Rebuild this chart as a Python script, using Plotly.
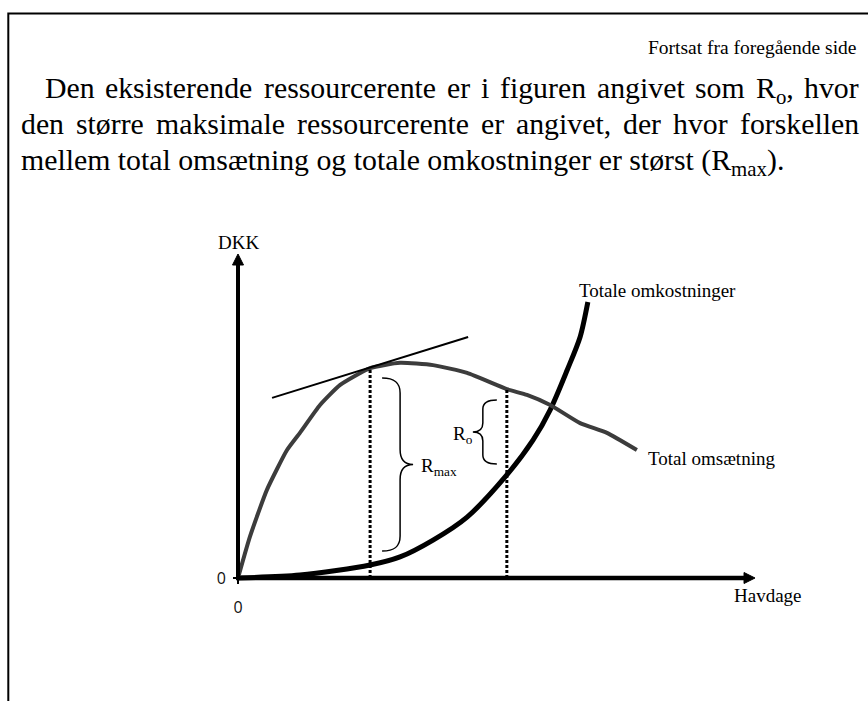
import re
import plotly.graph_objects as go

# ---------------- data ----------------
# Total omsætning (revenue) against havdage
havdage_oms = [0, 2.3, 5.6, 9.5, 12.0, 15.9, 19.8, 25.6, 31.4, 37.8, 44.4, 52.1, 56.0, 60.5, 66.3, 71.5, 77.3]
omsaetning = [0, 12.7, 27.2, 39.5, 44.8, 53.4, 59.6, 64.8, 66.4, 65.7, 63.3, 58.3, 56.5, 53.4, 47.8, 44.8, 39.5]

# Totale omkostninger (costs) against havdage
havdage_omk = [0, 12.0, 25.6, 31.4, 37.8, 44.4, 52.1, 57.2, 60.5, 63.8, 66.3, 67.8]
omkostninger = [0, 0.9, 4.0, 6.5, 11.7, 18.8, 31.8, 42.6, 51.9, 64.2, 74.4, 85.2]

# tangent to the revenue curve at the point of maximum rent
tangent_x = [6.6, 44.6]
tangent_y = [55.6, 74.4]

x_rmax = 25.6   # effort with maximum resource rent
x_ro = 52.1     # existing effort

tick_vals = [0]
tick_text = ["0"]

header = "Fortsat fra foregående side"
body_lines = [
    "Den eksisterende ressourcerente er i figuren angivet som R<sub>o</sub>, hvor",
    "den større maksimale ressourcerente er angivet, der hvor forskellen",
    "mellem total omsætning og totale omkostninger er størst (R<sub>max</sub>).",
]

# ---------------- geometry ----------------
W, H = 868, 701
ML, MR, MT, MB = 200, 88, 230, 101
PW, PH = W - ML - MR, H - MT - MB
OX, OY = 238, 578      # pixel position of the origin
SX, SY = 5.16, 3.24    # pixels per data unit

SERIF = "Liberation Serif, Times New Roman, serif"
SANS = "Open Sans, DejaVu Sans, sans-serif"


def xd(px):
    return (px - OX) / SX


def yd(py):
    return (OY - py) / SY


def xpx(x):
    return OX + x * SX


def ypx(y):
    return OY - y * SY


def paper_x(px):
    return (px - ML) / PW


def paper_y(py):
    return (H - MB - py) / PH


# Times / Liberation Serif advance widths (1/1000 em)
ADV = {' ': 250, 'a': 444, 'c': 444, 'd': 500, 'e': 444, 'f': 333, 'g': 500, 'h': 500,
       'i': 278, 'k': 500, 'l': 278, 'm': 778, 'n': 500, 'o': 500, 'r': 333, 's': 389,
       't': 278, 'u': 500, 'v': 500, 'x': 500, 'å': 444, 'æ': 667, 'ø': 500, 'D': 722,
       'F': 556, 'R': 667, ',': 250, '.': 250, '(': 333, ')': 333}


def text_width(s, size):
    total = 0.0
    for m in re.finditer(r"<sub>(.*?)</sub>|([^<]+)", s):
        part = m.group(1) if m.group(1) is not None else m.group(2)
        scale = 0.7 if m.group(1) is not None else 1.0
        total += sum(ADV.get(c, 500) for c in part) * scale
    return total / 1000.0 * size


def lookup(xs, ys, x):
    return ys[xs.index(x)]


fig = go.Figure()

# curves
fig.add_trace(go.Scatter(x=havdage_omk, y=omkostninger, mode="lines",
                         line=dict(color="#000000", width=5, shape="spline", smoothing=0.8),
                         hoverinfo="skip"))
fig.add_trace(go.Scatter(x=havdage_oms, y=omsaetning, mode="lines",
                         line=dict(color="#3c3c3c", width=4, shape="spline", smoothing=0.5),
                         hoverinfo="skip"))
fig.add_trace(go.Scatter(x=tangent_x, y=tangent_y, mode="lines",
                         line=dict(color="#000000", width=2), hoverinfo="skip"))

# dotted verticals from the revenue curve down to the axis
for xv in (x_rmax, x_ro):
    fig.add_trace(go.Scatter(x=[xv, xv], y=[0, lookup(havdage_oms, omsaetning, xv)],
                             mode="lines", line=dict(color="#000000", width=3, dash="3px,2px"),
                             hoverinfo="skip"))

shapes = []

# axes with arrow heads
x_tip, y_tip = 100.2, 100.0
head = 11  # arrow head length in pixels
shapes.append(dict(type="line", xref="x", yref="y", x0=0, y0=yd(OY + 2), x1=0, y1=y_tip - (head - 2) / SY,
                   line=dict(color="black", width=4), layer="above"))
shapes.append(dict(type="line", xref="x", yref="y", x0=xd(OX - 2), y0=0, x1=x_tip - (head - 2) / SX, y1=0,
                   line=dict(color="black", width=4.5), layer="above"))
ty = ypx(y_tip)
shapes.append(dict(type="path", xref="x", yref="y", layer="above",
                   path=f"M {xd(OX)},{yd(ty)} L {xd(OX - 5.5)},{yd(ty + head)} L {xd(OX + 5.5)},{yd(ty + head)} Z",
                   fillcolor="black", line=dict(color="black", width=1)))
tx = xpx(x_tip)
shapes.append(dict(type="path", xref="x", yref="y", layer="above",
                   path=f"M {xd(tx)},{yd(OY)} L {xd(tx - head)},{yd(OY - 5.5)} L {xd(tx - head)},{yd(OY + 5.5)} Z",
                   fillcolor="black", line=dict(color="black", width=1)))


def brace(x_end, y_top, y_bot, depth, tip, r, side):
    """Curly brace in pixel space; side=+1 opens like '}', -1 like '{'."""
    s = side
    xs = x_end + s * depth
    xt = x_end + s * tip
    ym = (y_top + y_bot) / 2
    pts = [
        ("M", [(x_end, y_top)]),
        ("C", [(xs - s * depth * 0.3, y_top), (xs, y_top + r * 0.3), (xs, y_top + r)]),
        ("L", [(xs, ym - r)]),
        ("C", [(xs, ym - r * 0.3), (xs + s * (tip - depth) * 0.4, ym), (xt, ym)]),
        ("C", [(xs + s * (tip - depth) * 0.4, ym), (xs, ym + r * 0.3), (xs, ym + r)]),
        ("L", [(xs, y_bot - r)]),
        ("C", [(xs, y_bot - r * 0.3), (xs - s * depth * 0.3, y_bot), (x_end, y_bot)]),
    ]
    out = []
    for cmd, pp in pts:
        out.append(cmd + " " + " ".join(f"{xd(a):.4f},{yd(b):.4f}" for a, b in pp))
    return " ".join(out)


# R_max brace between the two curves at x_rmax
bx = xpx(x_rmax)
shapes.append(dict(type="path", xref="x", yref="y", layer="above",
                   path=brace(bx + 12, ypx(lookup(havdage_oms, omsaetning, x_rmax)) + 10,
                              ypx(lookup(havdage_omk, omkostninger, x_rmax)) - 14, 18, 31, 15, 1),
                   line=dict(color="black", width=1.5)))
# R_o brace between the two curves at x_ro
bx = xpx(x_ro)
shapes.append(dict(type="path", xref="x", yref="y", layer="above",
                   path=brace(bx - 10, ypx(lookup(havdage_oms, omsaetning, x_ro)) + 11,
                              ypx(lookup(havdage_omk, omkostninger, x_ro)) - 11, 14, 24, 9, -1),
                   line=dict(color="black", width=1.5)))

# page frame
shapes.append(dict(type="path", xref="paper", yref="paper", layer="above",
                   path=f"M {paper_x(8.3)},{paper_y(705)} L {paper_x(8.3)},{paper_y(13.5)} L {paper_x(872)},{paper_y(13.5)}",
                   line=dict(color="black", width=2)))

annotations = []


def label(text, x, y, size=19, xanchor="left", yanchor="middle", ref="data"):
    a = dict(text=text, showarrow=False, xanchor=xanchor, yanchor=yanchor,
             font=dict(family=SERIF, size=size, color="black"))
    if ref == "data":
        a.update(xref="x", yref="y", x=xd(x), y=yd(y))
    else:
        a.update(xref="paper", yref="paper", x=paper_x(x), y=paper_y(y))
    annotations.append(a)


label("DKK", OX, 242, xanchor="center")
label("Totale omkostninger", 577, 290)
label("Total omsætning", 646, 458)
label("Havdage", 732, 595)
label("R<sub>max</sub>", 419, 465 - 0.56 * 19 - 1, yanchor="top")
label("R<sub>o</sub>", 451, 433 - 0.56 * 19 - 1, yanchor="top")

# header and body text
HEAD_SIZE = 19.5
BODY_SIZE = 29.8
label(header, 858, 53 - 0.891 * HEAD_SIZE - 1, size=HEAD_SIZE, xanchor="right", yanchor="top", ref="paper")

baselines = [97, 133, 169]
starts = [44, 20, 20]
right_edge = 858
for i, line in enumerate(body_lines):
    top = baselines[i] - 0.891 * BODY_SIZE - 1
    if i < len(body_lines) - 1:
        words = line.split(" ")
        widths = [text_width(w, BODY_SIZE) for w in words]
        gap = (right_edge - starts[i] - sum(widths)) / (len(words) - 1)
        xpos = starts[i]
        for w, wd in zip(words, widths):
            label(w, xpos - 1, top, size=BODY_SIZE, yanchor="top", ref="paper")
            xpos += wd + gap
    else:
        label(line, starts[i] - 1, top, size=BODY_SIZE, yanchor="top", ref="paper")

axis_common = dict(tickvals=tick_vals, ticktext=tick_text, ticks="outside", ticklen=5,
                   tickwidth=1.5, tickcolor="black", showgrid=False, zeroline=False,
                   showline=False, fixedrange=True,
                   tickfont=dict(family=SANS, size=16, color="#111"))

fig.update_layout(
    width=W, height=H,
    margin=dict(l=ML, r=MR, t=MT, b=MB, pad=0),
    paper_bgcolor="white", plot_bgcolor="white",
    showlegend=False,
    shapes=shapes, annotations=annotations,
    xaxis=dict(range=[xd(ML), xd(W - MR)], anchor="free", position=paper_y(OY),
               ticklabelstandoff=10, **axis_common),
    yaxis=dict(range=[yd(H - MB), yd(MT)], anchor="free", position=paper_x(OX),
               ticklabelstandoff=4, **axis_common),
)

fig.write_html("out.html", config={"displayModeBar": False})
